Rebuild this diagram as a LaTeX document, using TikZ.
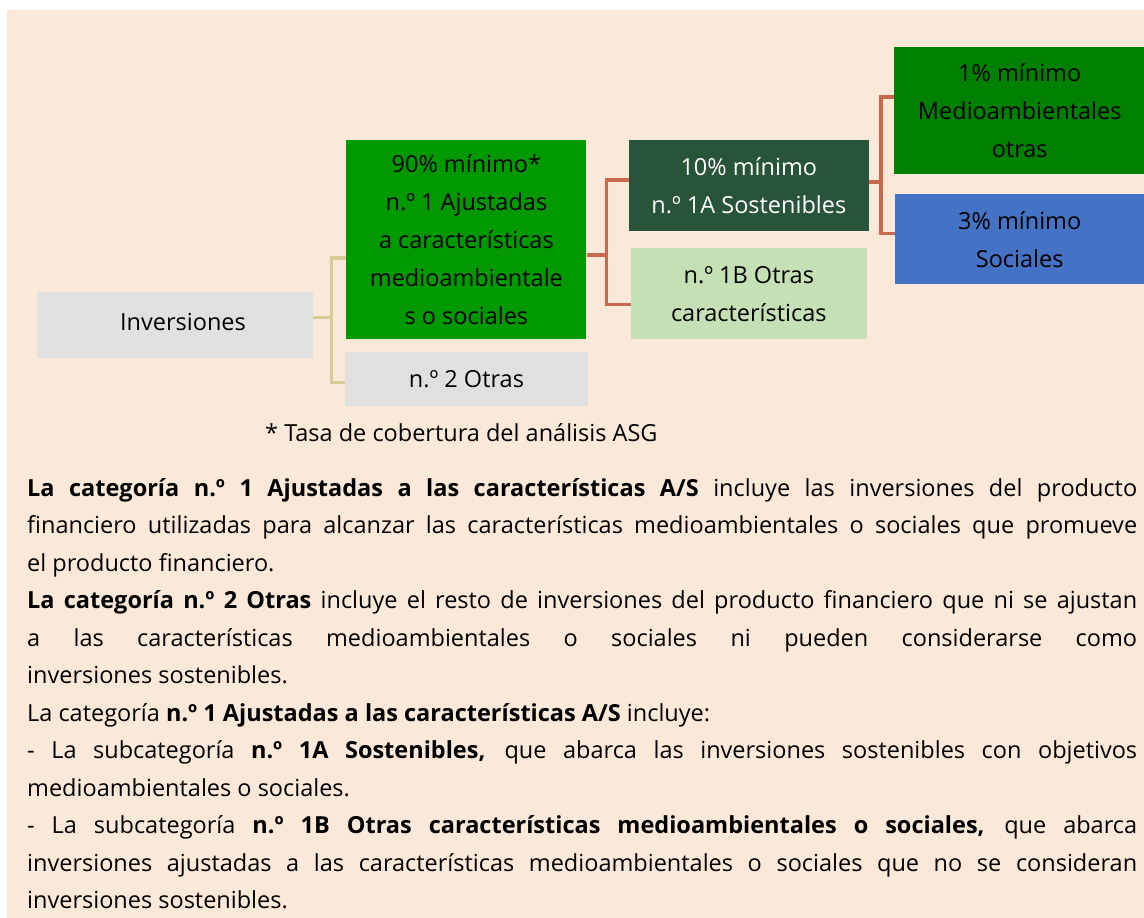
\documentclass[tikz,border=0pt]{standalone}
\usepackage{fontspec}
\setmainfont{Open Sans}
\usetikzlibrary{positioning}

\definecolor{beige}{RGB}{250,232,216}
\definecolor{grisbox}{RGB}{224,224,224}
\definecolor{verde}{RGB}{0,153,0}
\definecolor{verdeosc}{RGB}{40,84,58}
\definecolor{verdeclaro}{RGB}{197,224,180}
\definecolor{verdemed}{RGB}{0,128,0}
\definecolor{azul}{RGB}{68,114,196}
\definecolor{caqui}{RGB}{214,204,148}
\definecolor{teja}{RGB}{200,104,78}

\newcommand\cajafont{\fontsize{23.5pt}{38pt}\selectfont}
\newcommand\textofont{\fontsize{23.5pt}{37.5pt}\selectfont\hyphenpenalty=10000\exhyphenpenalty=10000}

\begin{document}
\begin{tikzpicture}
    [x=1pt, y=-1pt,
     box/.style={inner sep=0pt, align=center, font=\cajafont, text=black},
     brA/.style={draw=caqui, line width=3.4pt},
     brB/.style={draw=teja, line width=3.4pt}]
    \useasboundingbox (0,0) rectangle (1144,918);
    \fill[beige] (7,10) rectangle (1144,918);

    \node (n0) [box, fill=grisbox, minimum width=276pt, minimum height=66pt] at (175,325)
        {\hspace*{16pt}\raisebox{7pt}{Inversiones}};
    \node (n1) [box, fill=verde, minimum width=240pt, minimum height=199pt, right=33pt of n0, yshift=85.5pt]
        {\rule{0pt}{4pt}90\% mínimo*\\n.º 1 Ajustadas\\a características\\medioambientale\\s o sociales};
    \node (n2) [box, fill=grisbox, minimum width=243pt, minimum height=54pt, below=13pt of n1] {n.º 2 Otras};
    \node (n1a) [box, fill=verdeosc, text=white, minimum width=240pt, minimum height=91pt, right=42pt of n1, yshift=54pt]
        {10\% mínimo\\n.º 1A Sostenibles};
    \node (n1b) [box, fill=verdeclaro, minimum width=236pt, minimum height=91pt, below=17pt of n1a]
        {n.º 1B Otras\\características};
    \node (n1e) [box, fill=verdemed, minimum width=251pt, minimum height=127pt, right=25pt of n1a, yshift=75pt]
        {1\% mínimo\\Medioambientales\\otras};
    \node (n1s) [box, fill=azul, minimum width=249pt, minimum height=90pt, below=20pt of n1e]
        {3\% mínimo\\Sociales};

    \draw[brA] ([yshift=7.5pt]n0.east) -- ++(18pt,0) coordinate (j0);
    \draw[brA] ([yshift=-18.5pt]n1.west) -| (j0) |- ([yshift=-3pt]n2.west);
    \draw[brB] ([yshift=-15.5pt]n1.east) -- ++(20pt,0) coordinate (j1);
    \draw[brB] ([yshift=5.5pt]n1a.west) -| (j1) |- ([yshift=-10.5pt]n1b.west);
    \draw[brB] ([yshift=3.5pt]n1a.east) -- ++(12pt,0) coordinate (j2);
    \draw[brB] ([yshift=13.5pt]n1e.west) -| (j2) |- ([yshift=6pt]n1s.west);

    \node (nota) [anchor=west, inner sep=0pt, font=\cajafont] at (265,433) {* Tasa de cobertura del análisis ASG};

    \node (txt) [anchor=north west, inner sep=0pt, text width=1110pt, align=justify, font=\textofont] at (27,478)
    {\textbf{La categoría n.º 1 Ajustadas a las características A/S} incluye las inversiones del producto\linebreak
     financiero utilizadas para alcanzar las características medioambientales o sociales que promueve\linebreak
     el producto financiero.\par
     \textbf{La categoría n.º 2 Otras} incluye el resto de inversiones del producto financiero que ni se ajustan\linebreak
     a las características medioambientales o sociales ni pueden considerarse como\linebreak
     inversiones sostenibles.\par
     La categoría \textbf{n.º 1 Ajustadas a las características A/S} incluye:\par
     - La subcategoría \textbf{n.º 1A Sostenibles,} que abarca las inversiones sostenibles con objetivos\linebreak
     medioambientales o sociales.\par
     - La subcategoría \textbf{n.º 1B Otras características medioambientales o sociales,} que abarca\linebreak
     inversiones ajustadas a las características medioambientales o sociales que no se consideran\linebreak
     inversiones sostenibles.};
\end{tikzpicture}
\end{document}
